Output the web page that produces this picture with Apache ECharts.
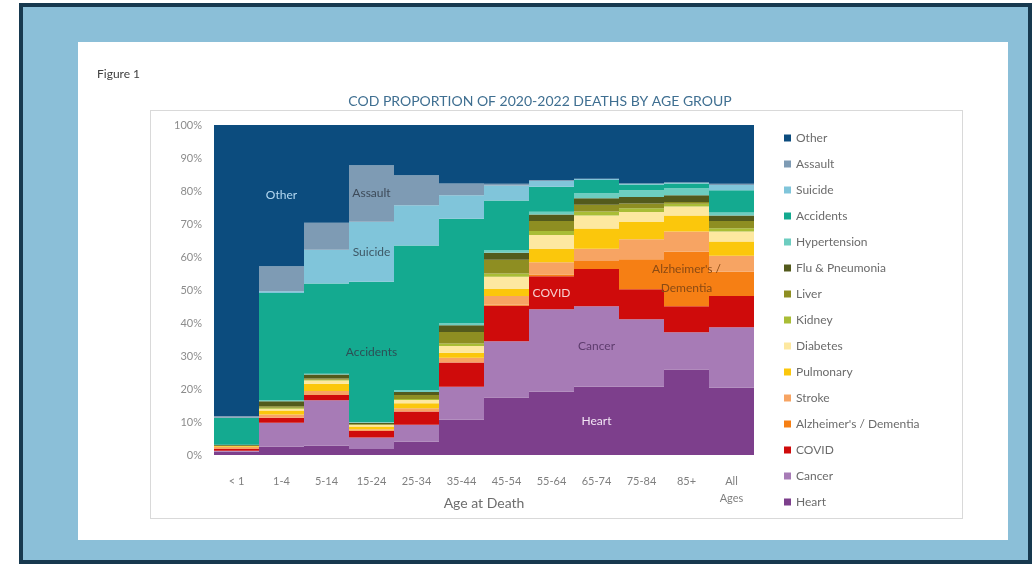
<!DOCTYPE html>
<html>
<head>
<meta charset="utf-8">
<script src="https://cdn.jsdelivr.net/npm/echarts@6/dist/echarts.min.js"></script>
<style>
  html, body { margin: 0; padding: 0; width: 1035px; height: 565px; overflow: hidden; background: #ffffff; }
  #frame { position: absolute; left: 19px; top: 3px; width: 1005px; height: 553px;
           background: #8bbfd8; border: 4px solid #17394f; }
  #panel { position: absolute; left: 78px; top: 42px; width: 930px; height: 498px; background: #ffffff; }
  #plotbox { position: absolute; left: 150px; top: 110px; width: 811px; height: 407px;
             border: 1px solid #d9d9d9; background: #ffffff; }
  #chart { position: absolute; left: 0; top: 0; width: 1035px; height: 565px; }
</style>
</head>
<body>
<div id="frame"></div>
<div id="panel"></div>
<div id="plotbox"></div>
<div id="chart"></div>
<script>
// Share of deaths (%) by cause, per age group, 2020-2022
const categories = ['< 1', '1-4', '5-14', '15-24', '25-34', '35-44', '45-54', '55-64', '65-74', '75-84', '85+', 'All\nAges'];
const yTicks = [0, 10, 20, 30, 40, 50, 60, 70, 80, 90, 100];

const heart        = [1.0, 2.5, 2.8, 1.8, 4.0, 10.7, 17.4, 19.2, 20.7, 20.7, 25.9, 20.4];
const cancer       = [0.3, 7.3, 13.8, 3.5, 5.2, 10.0, 17.1, 25.0, 24.4, 20.4, 11.3, 18.3];
const covid        = [0.5, 1.5, 1.6, 2.0, 4.0, 7.3, 10.7, 10.0, 11.3, 9.1, 7.9, 9.5];
const alzheimers   = [0, 0, 0, 0, 0, 0, 0.3, 0.5, 2.4, 9.1, 16.5, 7.3];
const stroke       = [0.7, 1.0, 1.2, 0.5, 1.0, 1.5, 2.7, 3.7, 3.7, 6.1, 6.1, 4.9];
const pulmonary    = [0.3, 1.2, 2.2, 0.8, 1.5, 1.5, 2.1, 4.0, 6.1, 5.2, 4.9, 4.3];
const diabetes     = [0, 0.5, 1.0, 0.5, 1.0, 2.0, 3.7, 4.3, 4.0, 3.0, 2.7, 3.0];
const kidney       = [0, 0.3, 0.2, 0.1, 0.3, 0.8, 1.0, 1.2, 1.2, 1.2, 0.8, 1.0];
const liver        = [0, 0.5, 0.4, 0.2, 1.2, 3.5, 4.2, 3.0, 2.0, 1.4, 0.6, 2.2];
const flu          = [0.3, 1.5, 1.2, 0.4, 0.9, 2.0, 2.1, 2.0, 2.0, 2.0, 2.0, 1.7];
const hypertension = [0, 0.3, 0.2, 0.2, 0.5, 0.6, 0.8, 0.8, 1.5, 2.0, 2.1, 0.9];
const accidents    = [8.2, 32.5, 27.4, 42.5, 43.9, 31.7, 15.0, 7.6, 4.0, 1.8, 1.5, 6.7];
const suicide      = [0, 0.5, 10.2, 18.2, 12.2, 7.1, 4.6, 1.7, 0.3, 0.2, 0.2, 1.6];
const assault      = [0.5, 7.6, 8.2, 17.1, 9.1, 3.6, 0.5, 0.3, 0.1, 0.1, 0.1, 0.4];
const other        = [88.2, 42.8, 29.6, 12.2, 15.2, 17.7, 17.8, 16.7, 16.3, 17.7, 17.4, 17.8];

// Stacking order, bottom to top
const causes = [
  { name: 'Heart', data: heart, color: '#7d3f8c', tag: { at: 8, color: '#f3e6f5' } },
  { name: 'Cancer', data: cancer, color: '#a77bb6', tag: { at: 8, color: '#5e3c6e' } },
  { name: 'COVID', data: covid, color: '#cf0b0b', tag: { at: 7, color: '#f6cfcf' } },
  { name: "Alzheimer's / Dementia", data: alzheimers, color: '#f67f14', tag: { at: 10, color: '#8a4a14', text: "Alzheimer's /\nDementia" } },
  { name: 'Stroke', data: stroke, color: '#f7a463' },
  { name: 'Pulmonary', data: pulmonary, color: '#fbc70c' },
  { name: 'Diabetes', data: diabetes, color: '#fde8a0' },
  { name: 'Kidney', data: kidney, color: '#a9bd36' },
  { name: 'Liver', data: liver, color: '#8e8e22' },
  { name: 'Flu & Pneumonia', data: flu, color: '#535a1c' },
  { name: 'Hypertension', data: hypertension, color: '#6dcdc0' },
  { name: 'Accidents', data: accidents, color: '#14aa90', tag: { at: 3, color: '#2c4f55' } },
  { name: 'Suicide', data: suicide, color: '#80c5da', tag: { at: 3, color: '#3d5866' } },
  { name: 'Assault', data: assault, color: '#7e9bb4', tag: { at: 3, color: '#3d4a58' } },
  { name: 'Other', data: other, color: '#0c4c7e', tag: { at: 1, color: '#b5d9f2' } }
];

const FONT = 'Lato, "Open Sans", sans-serif';

const series = causes.map(c => ({
  name: c.name,
  type: 'bar',
  stack: 'total',
  barCategoryGap: '0%',
  itemStyle: { color: c.color },
  data: c.data.map((v, i) => {
    if (c.tag && c.tag.at === i) {
      return {
        value: v,
        label: {
          show: true,
          position: 'inside',
          formatter: c.tag.text || c.name,
          color: c.tag.color,
          fontFamily: FONT,
          fontSize: 12,
          lineHeight: 19
        }
      };
    }
    return v;
  })
}));

const chart = echarts.init(document.getElementById('chart'), null, { renderer: 'canvas' });
chart.setOption({
  animation: false,
  backgroundColor: 'transparent',
  title: {
    text: 'COD PROPORTION OF 2020-2022 DEATHS BY AGE GROUP',
    left: 535,
    textAlign: 'center',
    top: 89,
    textStyle: { fontFamily: FONT, fontSize: 14, fontWeight: 'normal', color: '#3f6f91' }
  },
  graphic: [
    { type: 'text', left: 97, top: 68, style: { text: 'Figure 1', font: '12px ' + FONT, fill: '#404040' } }
  ],
  legend: {
    orient: 'vertical',
    left: 779,
    top: 126,
    itemWidth: 7,
    itemHeight: 7,
    itemGap: 12,
    icon: 'rect',
    data: causes.map(c => c.name).reverse(),
    textStyle: { fontFamily: FONT, fontSize: 12, color: '#6b6b6b', lineHeight: 14 }
  },
  // 540px wide plot: every column is exactly 45px, so neighbouring columns meet on whole pixels
  grid: { left: 214, right: 281, top: 125, bottom: 110 },
  xAxis: {
    type: 'category',
    data: categories,
    name: 'Age at Death',
    nameLocation: 'middle',
    nameGap: 41,
    nameMoveOverlap: false,
    nameTextStyle: { fontFamily: FONT, fontSize: 14, color: '#6e6e6e', verticalAlign: 'top' },
    axisLine: { show: false },
    axisTick: { show: false },
    splitLine: { show: false },
    axisLabel: { fontFamily: FONT, fontSize: 11, color: '#7f7f7f', margin: 18, interval: 0, lineHeight: 17 }
  },
  yAxis: {
    type: 'value',
    min: yTicks[0],
    max: yTicks[yTicks.length - 1],
    interval: yTicks[1] - yTicks[0],
    splitLine: { show: false },
    axisLine: { show: false },
    axisTick: { show: false },
    axisLabel: { fontFamily: FONT, fontSize: 11, color: '#8c8c8c', margin: 12, formatter: '{value}%' }
  },
  series: series
});
</script>
</body>
</html>
